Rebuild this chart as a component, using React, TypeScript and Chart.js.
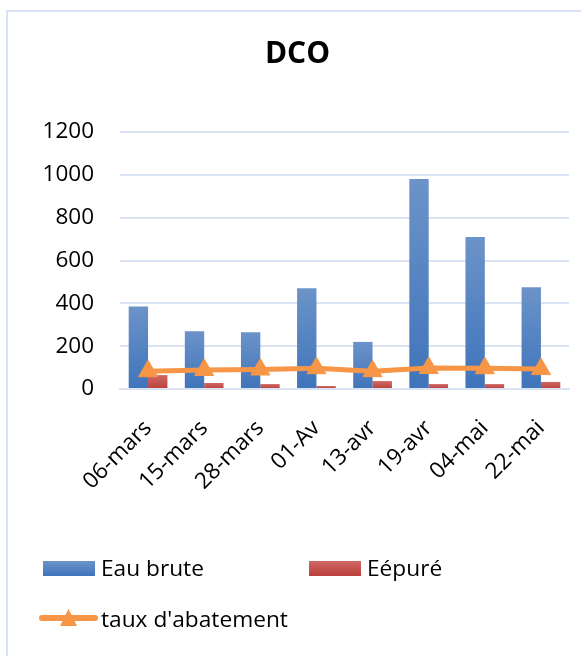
import React, { useEffect, useRef } from 'react';
import { Chart, registerables } from 'chart.js';

Chart.register(...registerables);

// ---- data ----
const categories = ['06-mars', '15-mars', '28-mars', '01-Av', '13-avr', '19-avr', '04-mai', '22-mai'];
const eauBrute = [385, 270, 265, 470, 220, 980, 710, 475];
const epure = [65, 28, 23, 14, 37, 23, 23, 33];
const tauxAbatement = [83, 89, 91, 97, 83, 98, 97, 93];
const seriesLabels = ['Eau brute', 'Eépuré', "taux d'abatement"];
const chartTitle = 'DCO';
const yMin = 0;
const yMax = 1200;
const yStep = 200;

// ---- styles ----
const FONT = "'Open Sans', 'Noto Sans', sans-serif";
const GRID = '#d9e3f1';
const BLUE_TOP = '#6c93c9';
const BLUE_BOTTOM = '#3f74ba';
const RED_TOP = '#d06866';
const RED_BOTTOM = '#bb3f3c';
const ORANGE = '#f79646';

function barGradient(top: string, bottom: string) {
  return (ctx: any) => {
    const chart = ctx.chart;
    if (!chart.chartArea || ctx.type !== 'data') return bottom;
    const ys = chart.scales.y;
    const yTop = ys.getPixelForValue(ctx.raw as number);
    const yBase = ys.getPixelForValue(0);
    if (!isFinite(yTop) || !isFinite(yBase) || Math.abs(yBase - yTop) < 0.5) return bottom;
    const g = chart.ctx.createLinearGradient(0, yTop, 0, yBase);
    g.addColorStop(0, top);
    g.addColorStop(1, bottom);
    return g;
  };
}

const gridLegend = {
  id: 'gridLegend',
  afterDraw(chart: any) {
    const ctx = chart.ctx as CanvasRenderingContext2D;
    ctx.save();
    ctx.font = `22.7px ${FONT}`;
    ctx.textBaseline = 'alphabetic';
    ctx.textAlign = 'left';

    const drawBox = (x: number, y: number, w: number, h: number, top: string, bottom: string) => {
      const g = ctx.createLinearGradient(0, y, 0, y + h);
      g.addColorStop(0, top);
      g.addColorStop(1, bottom);
      ctx.fillStyle = g;
      ctx.fillRect(x, y, w, h);
    };

    // Eau brute
    drawBox(43, 561, 52, 15, BLUE_TOP, BLUE_BOTTOM);
    ctx.fillStyle = '#000';
    ctx.fillText(seriesLabels[0], 101, 576);
    // Eépuré
    drawBox(309, 561, 52, 15, RED_TOP, RED_BOTTOM);
    ctx.fillStyle = '#000';
    ctx.fillText(seriesLabels[1], 367, 576);
    // taux d'abatement (line + triangle)
    ctx.strokeStyle = ORANGE;
    ctx.lineWidth = 6;
    ctx.lineCap = 'round';
    ctx.beginPath();
    ctx.moveTo(42, 618);
    ctx.lineTo(95, 618);
    ctx.stroke();
    ctx.fillStyle = ORANGE;
    ctx.beginPath();
    ctx.moveTo(68.5, 609);
    ctx.lineTo(77, 626);
    ctx.lineTo(60, 626);
    ctx.closePath();
    ctx.fill();
    ctx.fillStyle = '#000';
    ctx.fillText(seriesLabels[2], 101, 626.5);
    ctx.restore();
  },
};

export default function App() {
  const ref = useRef<HTMLCanvasElement>(null);

  useEffect(() => {
    const font = { family: FONT, size: 22.5 };
    const chart = new Chart(ref.current as HTMLCanvasElement, {
      type: 'bar',
      data: {
        labels: categories,
        datasets: [
          {
            type: 'line',
            label: seriesLabels[2],
            data: tauxAbatement,
            borderColor: ORANGE,
            backgroundColor: ORANGE,
            borderWidth: 5,
            pointStyle: 'triangle',
            pointRadius: 11,
            pointBackgroundColor: ORANGE,
            pointBorderColor: ORANGE,
            pointBorderWidth: 1,
            tension: 0,
            order: 0,
          } as any,
          {
            type: 'bar',
            label: seriesLabels[0],
            data: eauBrute,
            backgroundColor: barGradient(BLUE_TOP, BLUE_BOTTOM),
            barPercentage: 1,
            categoryPercentage: 0.69,
            order: 1,
          },
          {
            type: 'bar',
            label: seriesLabels[1],
            data: epure,
            backgroundColor: barGradient(RED_TOP, RED_BOTTOM),
            barPercentage: 1,
            categoryPercentage: 0.69,
            order: 1,
          },
        ],
      },
      options: {
        responsive: false,
        animation: false,
        devicePixelRatio: 1,
        layout: { padding: { left: 22, right: 8, top: 0, bottom: 136 } },
        plugins: {
          legend: { display: false },
          tooltip: { enabled: false },
          title: {
            display: true,
            text: chartTitle,
            color: '#000',
            font: { family: FONT, size: 30, weight: 'bold' },
            padding: { top: 36, bottom: 60 },
          },
        },
        scales: {
          x: {
            grid: { display: false },
            border: { display: true, color: GRID, width: 2 },
            ticks: {
              color: '#000',
              font,
              minRotation: 45,
              maxRotation: 45,
              autoSkip: false,
              padding: 18,
            },
            afterFit: (s: any) => {
              s.height = 131;
            },
          },
          y: {
            min: yMin,
            max: yMax,
            grid: { color: GRID, lineWidth: 2, drawTicks: false },
            border: { display: false },
            ticks: {
              stepSize: yStep,
              color: '#000',
              font,
              padding: 26,
              callback: (v: any) => String(v),
            },
            afterFit: (s: any) => {
              s.width = 98;
            },
          },
        },
      },
      plugins: [gridLegend],
    });
    return () => chart.destroy();
  }, []);

  return (
    <div
      style={{
        position: 'fixed',
        left: 0,
        top: 0,
        width: 581,
        height: 656,
        overflow: 'hidden',
        background: '#fff',
      }}
    >
      <div
        style={{
          position: 'absolute',
          left: 6,
          top: 10,
          width: 640,
          height: 720,
          border: '2.5px solid #d7e3f4',
          boxSizing: 'border-box',
        }}
      />
      <canvas
        ref={ref}
        width={581}
        height={656}
        style={{ position: 'absolute', left: 0, top: 0, width: 581, height: 656 }}
      />
    </div>
  );
}
